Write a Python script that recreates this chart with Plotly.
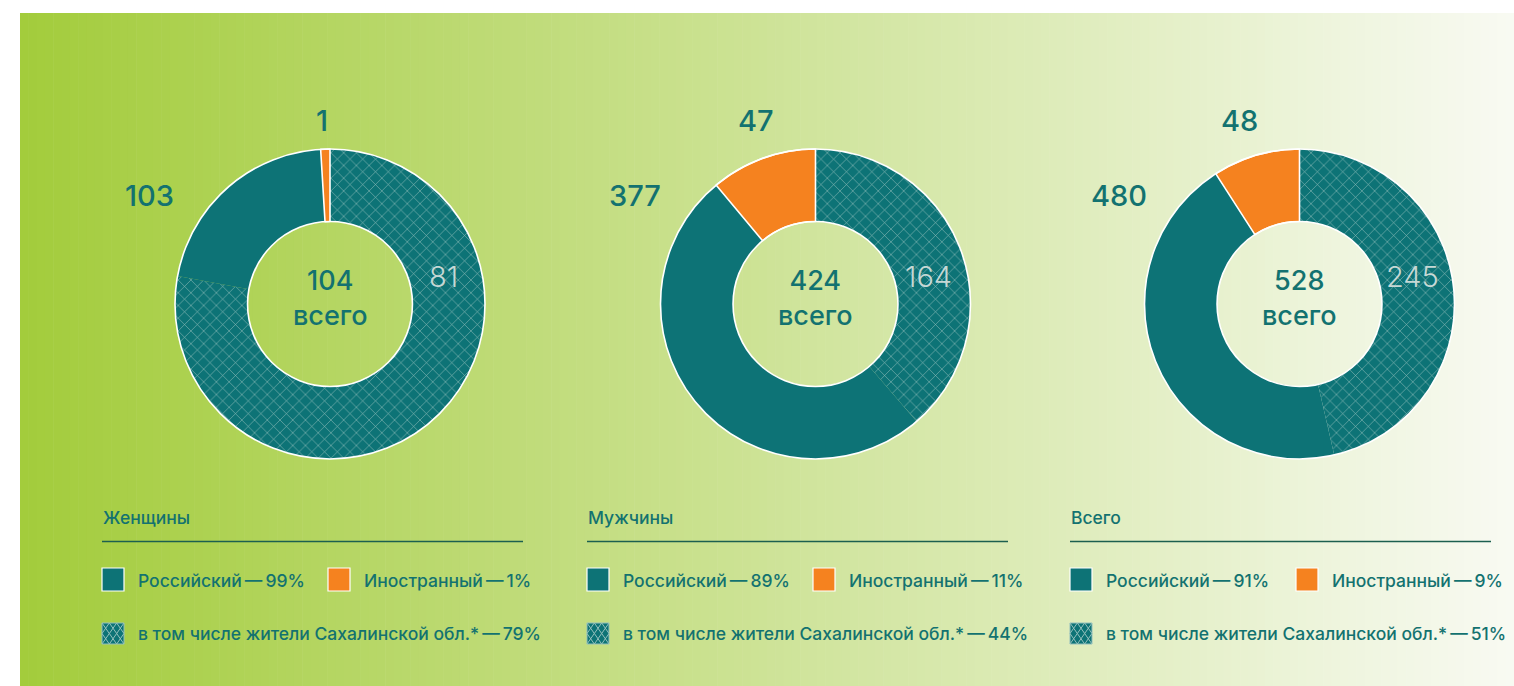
import plotly.graph_objects as go

# ---- data -------------------------------------------------------------
groups = ["Женщины", "Мужчины", "Всего"]
total = [104, 424, 528]
russian = [103, 377, 480]
foreign = [1, 47, 48]
sakhalin = [81, 164, 245]
russian_pct = [99, 89, 91]
foreign_pct = [1, 11, 9]
sakhalin_pct = [79, 44, 51]

# ---- styling / layout constants --------------------------------------
W, H = 1514, 686
TEAL = "#0d7376"
ORANGE = "#f5821f"
HATCH = "#93c0bc"
TEXT = "#137270"
INNER_LABEL = "#c6d8d5"
RULE = "#1c5f4f"
FONT = "Inter"

centers = [(330, 304), (815.5, 304), (1299.5, 304)]
R = 155
HOLE = 0.532
top_label_dx = [-8, -60, -60]
legend_x0 = [102, 587, 1070]
LEG_SIZE = 17.5


def X(px):
    return px / W


def Y(py):
    return 1 - py / H


fig = go.Figure()

# gradient backdrop built from thin vertical strips
shapes = []
c0 = (163, 204, 60)
c1 = (248, 250, 242)
bx0, bx1, by0, by1 = 20, W, 13, H
n = 180
for i in range(n):
    t = i / (n - 1)
    col = tuple(round(c0[k] + (c1[k] - c0[k]) * t) for k in range(3))
    xa = bx0 + (bx1 - bx0) * i / n
    xb = bx0 + (bx1 - bx0) * (i + 1) / n + 0.6
    shapes.append(dict(type="rect", xref="paper", yref="paper",
                       x0=X(xa), x1=X(min(xb, W)), y0=Y(by1), y1=Y(by0),
                       fillcolor="rgb(%d,%d,%d)" % col, line=dict(width=0),
                       layer="below"))

annotations = []

for i, (cx, cy) in enumerate(centers):
    vals = [sakhalin[i], russian[i] - sakhalin[i], foreign[i]]
    fig.add_trace(go.Pie(
        values=vals,
        labels=["в том числе жители Сахалинской обл.", "Российский", "Иностранный"],
        sort=False, direction="clockwise", rotation=0, hole=HOLE,
        textinfo="none", showlegend=False,
        marker=dict(colors=[TEAL, TEAL, ORANGE],
                    line=dict(color="white", width=[0, 0, 1.6]),
                    pattern=dict(shape=["x", "", ""], fgcolor=HATCH,
                                 bgcolor=TEAL, size=9, solidity=0.12)),
        domain=dict(x=[X(cx - R), X(cx + R)], y=[Y(cy + R), Y(cy - R)]),
    ))
    # white outline of the ring (outer and inner edge)
    for rr in (R, R * HOLE):
        shapes.append(dict(type="circle", xref="paper", yref="paper",
                           x0=X(cx - rr), x1=X(cx + rr), y0=Y(cy + rr), y1=Y(cy - rr),
                           line=dict(color="white", width=1.6)))

    # centre total
    annotations.append(dict(x=X(cx), y=Y(298), text="%d<br>всего" % total[i],
                            font=dict(family=FONT, size=27, color=TEXT, weight=500)))
    # value on the hatched part
    annotations.append(dict(x=X(cx + 113), y=Y(276), text=str(sakhalin[i]),
                            font=dict(family=FONT, size=29, color=INNER_LABEL, weight=300)))
    # outside values
    annotations.append(dict(x=X(cx + top_label_dx[i]), y=Y(121), text=str(foreign[i]),
                            font=dict(family=FONT, size=29, color=TEXT, weight=500)))
    annotations.append(dict(x=X(cx - 181), y=Y(195), text=str(russian[i]),
                            font=dict(family=FONT, size=29, color=TEXT, weight=500)))

    # legend block
    gx = legend_x0[i]
    annotations.append(dict(x=X(gx - 1), y=Y(517), text=groups[i], xanchor="left",
                            font=dict(family=FONT, size=LEG_SIZE, color=TEXT, weight=500)))
    shapes.append(dict(type="line", xref="paper", yref="paper",
                       x0=X(gx), x1=X(gx + 421), y0=Y(541.5), y1=Y(541.5),
                       line=dict(color=RULE, width=1.5)))
    # solid squares
    for dx, col in ((0, TEAL), (226, ORANGE)):
        shapes.append(dict(type="rect", xref="paper", yref="paper",
                           x0=X(gx + dx), x1=X(gx + dx + 22), y0=Y(591), y1=Y(568),
                           fillcolor=col, line=dict(color="white", width=1.2)))
    annotations.append(dict(x=X(gx + 34), y=Y(580), xanchor="left",
                            text="Российский\u2009—\u2009%d%%" % russian_pct[i],
                            font=dict(family=FONT, size=LEG_SIZE, color=TEXT, weight=500)))
    annotations.append(dict(x=X(gx + 260), y=Y(580), xanchor="left",
                            text="Иностранный\u2009—\u2009%d%%" % foreign_pct[i],
                            font=dict(family=FONT, size=LEG_SIZE, color=TEXT, weight=500)))
    # hatched square
    hx0, hx1, hy0, hy1 = gx, gx + 22, 623, 644
    shapes.append(dict(type="rect", xref="paper", yref="paper",
                       x0=X(hx0), x1=X(hx1), y0=Y(hy1), y1=Y(hy0),
                       fillcolor=TEAL, line=dict(width=0)))
    cw = (hx1 - hx0) / 3
    for c in range(3):
        for start in (0, 1):
            xs = [hx0 + c * cw + cw * ((start + k) % 2) for k in range(3)]
            ys = [hy0, (hy0 + hy1) / 2, hy1]
            path = "M %f,%f L %f,%f L %f,%f" % (X(xs[0]), Y(ys[0]), X(xs[1]), Y(ys[1]),
                                                 X(xs[2]), Y(ys[2]))
            shapes.append(dict(type="path", xref="paper", yref="paper", path=path,
                               line=dict(color=HATCH, width=1)))
    shapes.append(dict(type="rect", xref="paper", yref="paper",
                       x0=X(hx0), x1=X(hx1), y0=Y(hy1), y1=Y(hy0),
                       line=dict(color=HATCH, width=1)))
    annotations.append(dict(x=X(gx + 34), y=Y(633), xanchor="left",
                            text="в том числе жители Сахалинской обл.*\u2009—\u2009%d%%" % sakhalin_pct[i],
                            font=dict(family=FONT, size=LEG_SIZE, color=TEXT, weight=500)))

for a in annotations:
    a.update(xref="paper", yref="paper", showarrow=False)
    a.setdefault("xanchor", "center")
    a.setdefault("yanchor", "middle")

fig.update_layout(
    width=W, height=H,
    margin=dict(l=0, r=0, t=0, b=0),
    paper_bgcolor="white", plot_bgcolor="white",
    shapes=shapes, annotations=annotations,
)

fig.write_html("out.html")
